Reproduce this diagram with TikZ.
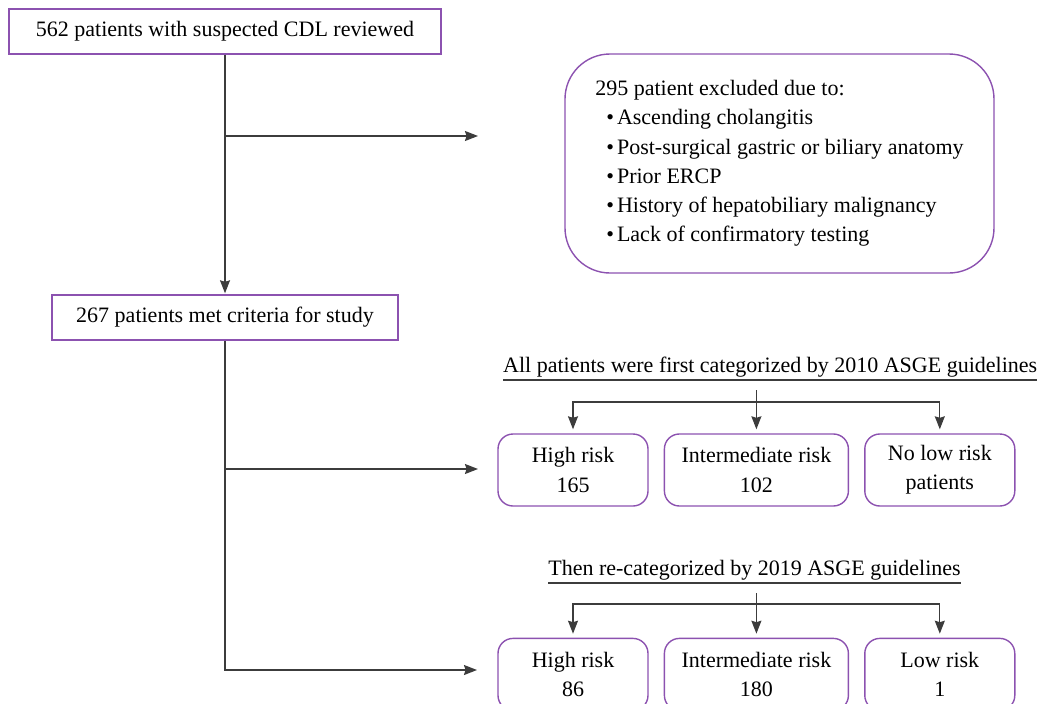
\documentclass[tikz,border=0pt]{standalone}
\usepackage{fontspec}
\setmainfont{Liberation Serif}
\usetikzlibrary{positioning, arrows.meta}
\definecolor{boxpurple}{RGB}{140,82,176}
\definecolor{linegray}{RGB}{60,60,60}

\begin{document}
\begin{tikzpicture}[x=1pt, y=-1pt, font=\fontsize{22}{29.2}\selectfont,
		pbox/.style={draw=boxpurple, line width=1.4pt, inner sep=0pt, minimum height=45pt},
		rbox/.style={draw=boxpurple, line width=1.4pt, rounded corners=15pt, inner sep=0pt, minimum height=72pt, align=center},
		hdr/.style={inner sep=0pt, anchor=base},
		ln/.style={draw=linegray, line width=1.3pt},
		arr/.style={ln, -{Stealth[length=13pt, width=10pt, inset=1.5pt]}}]
		\useasboundingbox (0,0) rectangle (1039,704);
		% left column
		\node[pbox, minimum width=432pt] (rev) at (225,31.5) {562 patients with suspected CDL reviewed};
		\node[pbox, minimum width=346pt] (met) at (225,317.5) {267 patients met criteria for study};
		\node[draw=boxpurple, line width=1.4pt, rounded corners=45pt, minimum width=429pt, minimum height=219pt, align=left] (exc) at (779.5,163.5)
			{295 patient excluded due to:\\
			\hspace{11pt}\textbullet\hspace{3pt}Ascending cholangitis\\
			\hspace{11pt}\textbullet\hspace{3pt}Post-surgical gastric or biliary anatomy\\
			\hspace{11pt}\textbullet\hspace{3pt}Prior ERCP\\
			\hspace{11pt}\textbullet\hspace{3pt}History of hepatobiliary malignancy\\
			\hspace{11pt}\textbullet\hspace{3pt}Lack of confirmatory testing};
		\coordinate (eA) at (478,136);
		\coordinate (eB) at (478,469);
		\coordinate (eC) at (477,670);
		\draw[arr, shorten >=1pt] (rev) -- (met);
		\draw[arr] (rev.south |- eA) -- (eA);
		\draw[arr] (met.south) |- (eC);
		\draw[arr] (met.south |- eB) -- (eB);
		% 2010 guidelines
		\node[hdr, anchor=base west] (hA) at (503,372) {All patients were first categorized by 2010 ASGE guidelines};
		\draw[ln, line width=1.2pt] ([yshift=-8pt]hA.base west) -- ([yshift=-8pt]hA.base east);
		\node[rbox, minimum width=150pt] (hiA) at (573,470) {High risk\\165};
		\node[rbox, minimum width=184pt, right=15pt of hiA] (inA) {Intermediate risk\\102};
		\node[rbox, minimum width=150pt, right=15pt of inA] (noA) {No low risk\\patients};
		\coordinate (sA) at (755,390); \coordinate (jA) at (755,402);
		\draw[arr, shorten >=4pt] (inA.north |- sA) -- (inA.north);
		\draw[arr, shorten >=4pt] (inA.north |- jA) -| (hiA.north);
		\draw[arr, shorten >=4pt] (inA.north |- jA) -| (noA.north);
		% 2019 guidelines
		\node[hdr] (hB) at (754.5,575) {Then re-categorized by 2019 ASGE guidelines};
		\draw[ln, line width=1.2pt] ([yshift=-8pt]hB.base west) -- ([yshift=-8pt]hB.base east);
		\node[rbox, minimum width=150pt, below=131pt of hiA] (hiB) {High risk\\86};
		\node[rbox, minimum width=184pt, right=15pt of hiB] (inB) {Intermediate risk\\180};
		\node[rbox, minimum width=150pt, right=15pt of inB] (loB) {Low risk\\1};
		\coordinate (sB) at (755,593); \coordinate (jB) at (755,604);
		\draw[arr, shorten >=4pt] (inB.north |- sB) -- (inB.north);
		\draw[arr, shorten >=4pt] (inB.north |- jB) -| (hiB.north);
		\draw[arr, shorten >=4pt] (inB.north |- jB) -| (loB.north);
	\end{tikzpicture}
\end{document}
